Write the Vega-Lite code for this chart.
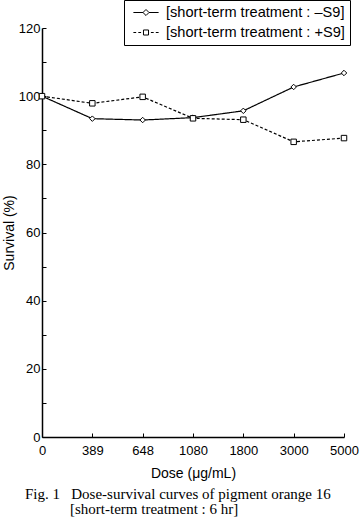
{
  "$schema": "https://vega.github.io/schema/vega-lite/v6.json",
  "autosize": "none",
  "width": 302,
  "height": 409,
  "padding": {"left": 42, "top": 28, "right": 16, "bottom": 81},
  "background": "white",
  "config": {
    "view": {"stroke": null},
    "font": "Liberation Sans",
    "axis": {"labelFont": "Liberation Sans", "labelFontSize": 13, "labelColor": "black", "titleFont": "Liberation Sans", "titleFontSize": 14, "titleFontWeight": "normal", "titleColor": "black", "domainColor": "black", "domainWidth": 1.5, "tickColor": "black", "grid": false}
  },
  "title": {
    "text": ["Fig. 1\u00a0\u00a0\u00a0Dose-survival curves of pigment orange 16", "\u200b\u00a0\u00a0\u00a0\u00a0\u00a0\u00a0\u00a0\u00a0\u00a0\u00a0\u00a0\u00a0[short-term treatment : 6 hr]"],
    "orient": "bottom",
    "anchor": "start",
    "frame": "group",
    "dx": -17,
    "offset": 7,
    "font": "Liberation Serif",
    "fontSize": 15,
    "fontWeight": "normal",
    "color": "black",
    "lineHeight": 15
  },
  "data": {
    "values": [
      {"dose": "0", "survival": 100.0, "series": "[short-term treatment : \u2013S9]"},
      {"dose": "389", "survival": 93.4, "series": "[short-term treatment : \u2013S9]"},
      {"dose": "648", "survival": 93.0, "series": "[short-term treatment : \u2013S9]"},
      {"dose": "1080", "survival": 93.7, "series": "[short-term treatment : \u2013S9]"},
      {"dose": "1800", "survival": 95.7, "series": "[short-term treatment : \u2013S9]"},
      {"dose": "3000", "survival": 102.7, "series": "[short-term treatment : \u2013S9]"},
      {"dose": "5000", "survival": 106.8, "series": "[short-term treatment : \u2013S9]"},
      {"dose": "0", "survival": 100.0, "series": "[short-term treatment : +S9]"},
      {"dose": "389", "survival": 97.9, "series": "[short-term treatment : +S9]"},
      {"dose": "648", "survival": 99.8, "series": "[short-term treatment : +S9]"},
      {"dose": "1080", "survival": 93.5, "series": "[short-term treatment : +S9]"},
      {"dose": "1800", "survival": 93.1, "series": "[short-term treatment : +S9]"},
      {"dose": "3000", "survival": 86.6, "series": "[short-term treatment : +S9]"},
      {"dose": "5000", "survival": 87.7, "series": "[short-term treatment : +S9]"}
    ]
  },
  "encoding": {
    "x": {
      "field": "dose", "type": "ordinal",
      "sort": ["0", "389", "648", "1080", "1800", "3000", "5000"],
      "scale": {"type": "point", "padding": 0},
      "axis": {"title": "Dose (\u03bcg/mL)", "labelAngle": 0, "tickSize": -4, "labelPadding": 11, "titlePadding": 9}
    },
    "y": {
      "field": "survival", "type": "quantitative",
      "scale": {"domain": [0, 120], "nice": false, "zero": true},
      "axis": {"title": "Survival (%)", "values": [0, 10, 20, 30, 40, 50, 60, 70, 80, 90, 100, 110, 120], "labelExpr": "datum.value % 20 == 0 ? datum.label : ''", "tickSize": -4, "labelPadding": 6, "titlePadding": 2}
    }
  },
  "layer": [
    {
      "mark": {"type": "line", "color": "black", "strokeWidth": 1.2},
      "encoding": {
        "strokeDash": {
          "field": "series", "type": "nominal",
          "scale": {"domain": ["[short-term treatment : \u2013S9]", "[short-term treatment : +S9]"], "range": [[1, 0], [3, 2]]},
          "legend": null
        }
      }
    },
    {
      "mark": {"type": "point", "filled": true, "fill": "white", "stroke": "black", "strokeWidth": 1, "size": 30, "opacity": 1},
      "encoding": {
        "shape": {
          "field": "series", "type": "nominal",
          "scale": {"domain": ["[short-term treatment : \u2013S9]", "[short-term treatment : +S9]"], "range": ["diamond", "square"]},
          "legend": null
        }
      }
    },
    {
      "transform": [{"filter": "datum.survival < 0"}],
      "mark": {"type": "point", "filled": false, "color": "black", "strokeWidth": 1, "size": 196, "opacity": 1},
      "encoding": {
        "shape": {
          "field": "series", "type": "nominal",
          "scale": {
            "domain": ["[short-term treatment : \u2013S9]", "[short-term treatment : +S9]"],
            "range": [
              "M-1.8,0L-0.43,0M0.43,0L1.8,0M0,-0.43L0.43,0L0,0.43L-0.43,0Z",
              "M-1.8,0L-1.4,0M-1.1,0L-0.7,0M0.7,0L1.1,0M1.4,0L1.8,0M-0.36,-0.36L0.36,-0.36L0.36,0.36L-0.36,0.36Z"
            ]
          },
          "legend": {
            "title": null,
            "orient": "none",
            "legendX": 82,
            "legendY": -28,
            "strokeColor": "black",
            "fillColor": "white",
            "padding": 5,
            "symbolOffset": 9.5,
            "symbolSize": 196,
            "symbolStrokeWidth": 1,
            "symbolStrokeColor": "black",
            "labelFont": "Liberation Sans",
            "labelFontSize": 14.6,
            "labelColor": "black",
            "labelOffset": 12.5,
            "labelLimit": 300,
            "rowPadding": 4
          }
        }
      }
    }
  ],
  "resolve": {"scale": {"shape": "independent"}, "legend": {"shape": "independent"}}
}
